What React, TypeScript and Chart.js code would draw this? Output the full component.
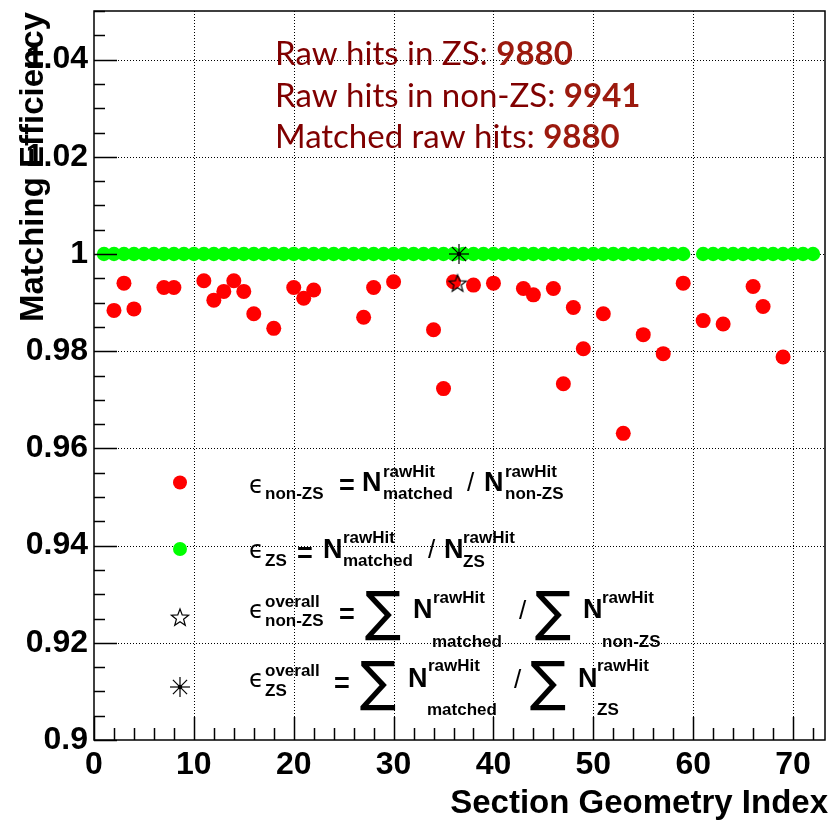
import React, { useEffect, useRef } from 'react';
import { Chart, registerables } from 'chart.js';

Chart.register(...registerables);

// ---- data ----
const sectionIndex = [2, 3, 4, 7, 8, 11, 12, 13, 14, 15, 16, 18, 20, 21, 22, 27, 28, 30, 34, 35, 36, 38, 40, 43, 44, 46, 47, 48, 49, 51, 53, 55, 57, 59, 61, 63, 66, 67, 69];
const effNonZS = [0.9884, 0.9940, 0.9887, 0.9931, 0.9931, 0.9945, 0.9905, 0.9923, 0.9945, 0.9923, 0.9877, 0.9847, 0.9931, 0.9909, 0.9926, 0.9870, 0.9931, 0.9943, 0.9844, 0.9723, 0.9943, 0.9936, 0.9940, 0.9929, 0.9916, 0.9929, 0.9733, 0.9890, 0.9805, 0.9877, 0.9631, 0.9834, 0.9795, 0.9940, 0.9863, 0.9856, 0.9933, 0.9892, 0.9788];

const zsIndex = [1, 2, 3, 4, 5, 6, 7, 8, 9, 10, 11, 12, 13, 14, 15, 16, 17, 18, 19, 20, 21, 22, 23, 24, 25, 26, 27, 28, 29, 30, 31, 32, 33, 34, 35, 36, 37, 38, 39, 40, 41, 42, 43, 44, 45, 46, 47, 48, 49, 50, 51, 52, 53, 54, 55, 56, 57, 58, 59, 61, 62, 63, 64, 65, 66, 67, 68, 69, 70, 71, 72];
const effZS = [1, 1, 1, 1, 1, 1, 1, 1, 1, 1, 1, 1, 1, 1, 1, 1, 1, 1, 1, 1, 1, 1, 1, 1, 1, 1, 1, 1, 1, 1, 1, 1, 1, 1, 1, 1, 1, 1, 1, 1, 1, 1, 1, 1, 1, 1, 1, 1, 1, 1, 1, 1, 1, 1, 1, 1, 1, 1, 1, 1, 1, 1, 1, 1, 1, 1, 1, 1, 1, 1, 1];

const overallNonZSX = [36.4];
const overallNonZSEff = [0.99386];
const overallZSX = [36.55];
const overallZSEff = [1.0];

const rawHitsZS = 9880;
const rawHitsNonZS = 9941;
const matchedRawHits = 9880;

const xMin = 0;
const xMax = 73.2;
const yMin = 0.9;
const yMax = 1.05;

// ---- styling helpers ----
const SANS = "'Liberation Sans', Arial, Helvetica, sans-serif";
const bold = (s: number) => `bold ${s}px ${SANS}`;

function makeStar(r: number): HTMLCanvasElement {
  const c = document.createElement('canvas');
  const s = Math.ceil(r * 2 + 4);
  c.width = s; c.height = s;
  const g = c.getContext('2d')!;
  const cx = s / 2, cy = s / 2;
  g.beginPath();
  for (let i = 0; i < 10; i++) {
    const rr = i % 2 === 0 ? r : r * 0.42;
    const a = -Math.PI / 2 + (i * Math.PI) / 5;
    const px = cx + rr * Math.cos(a), py = cy + rr * Math.sin(a);
    if (i === 0) g.moveTo(px, py); else g.lineTo(px, py);
  }
  g.closePath();
  g.strokeStyle = '#000';
  g.lineWidth = 1.2;
  g.stroke();
  return c;
}

function makeAsterisk(r: number): HTMLCanvasElement {
  const c = document.createElement('canvas');
  const s = Math.ceil(r * 2 + 4);
  c.width = s; c.height = s;
  const g = c.getContext('2d')!;
  const cx = s / 2, cy = s / 2;
  g.strokeStyle = '#000';
  g.lineWidth = 1.2;
  for (let i = 0; i < 4; i++) {
    const a = (i * Math.PI) / 4;
    g.beginPath();
    g.moveTo(cx - r * Math.cos(a), cy - r * Math.sin(a));
    g.lineTo(cx + r * Math.cos(a), cy + r * Math.sin(a));
    g.stroke();
  }
  g.beginPath();
  g.arc(cx, cy, 2.2, 0, Math.PI * 2);
  g.fillStyle = '#000';
  g.fill();
  return c;
}

type Run = { t: string; x: number; y: number; f: string };

function legendRuns(): Run[] {
  const eps = `24px 'DejaVu Sans', sans-serif`;
  const big = bold(27);
  const sm = bold(17);
  const sig = `54px 'DejaVu Sans', sans-serif`;
  const slash = `26px ${SANS}`;
  return [
    // row 1
    { t: 'ϵ', x: 249, y: 493, f: eps },
    { t: 'non-ZS', x: 265, y: 499, f: sm },
    { t: '=', x: 339, y: 494, f: big },
    { t: 'N', x: 362, y: 491, f: big },
    { t: 'rawHit', x: 383, y: 477, f: sm },
    { t: 'matched', x: 383, y: 499, f: sm },
    { t: '/', x: 467, y: 491, f: slash },
    { t: 'N', x: 484, y: 491, f: big },
    { t: 'rawHit', x: 505, y: 477, f: sm },
    { t: 'non-ZS', x: 505, y: 499, f: sm },
    // row 2
    { t: 'ϵ', x: 249, y: 558, f: eps },
    { t: 'ZS', x: 265, y: 566, f: sm },
    { t: '=', x: 297, y: 562, f: big },
    { t: 'N', x: 323, y: 558, f: big },
    { t: 'rawHit', x: 343, y: 543, f: sm },
    { t: 'matched', x: 343, y: 566, f: sm },
    { t: '/', x: 428, y: 558, f: slash },
    { t: 'N', x: 444, y: 558, f: big },
    { t: 'rawHit', x: 463, y: 543, f: sm },
    { t: 'ZS', x: 463, y: 567, f: sm },
    // row 3
    { t: 'ϵ', x: 249, y: 618, f: eps },
    { t: 'overall', x: 265, y: 607, f: sm },
    { t: 'non-ZS', x: 265, y: 626, f: sm },
    { t: '=', x: 339, y: 623, f: big },
    { t: '∑', x: 365, y: 630, f: sig },
    { t: 'N', x: 413, y: 618, f: big },
    { t: 'rawHit', x: 433, y: 603, f: sm },
    { t: 'matched', x: 432, y: 647, f: sm },
    { t: '/', x: 519, y: 619, f: slash },
    { t: '∑', x: 535, y: 630, f: sig },
    { t: 'N', x: 583, y: 618, f: big },
    { t: 'rawHit', x: 602, y: 603, f: sm },
    { t: 'non-ZS', x: 602, y: 647, f: sm },
    // row 4
    { t: 'ϵ', x: 249, y: 687, f: eps },
    { t: 'overall', x: 265, y: 676, f: sm },
    { t: 'ZS', x: 265, y: 696, f: sm },
    { t: '=', x: 334, y: 692, f: big },
    { t: '∑', x: 360, y: 700, f: sig },
    { t: 'N', x: 408, y: 687, f: big },
    { t: 'rawHit', x: 428, y: 671, f: sm },
    { t: 'matched', x: 427, y: 715, f: sm },
    { t: '/', x: 514, y: 688, f: slash },
    { t: '∑', x: 530, y: 700, f: sig },
    { t: 'N', x: 578, y: 687, f: big },
    { t: 'rawHit', x: 597, y: 671, f: sm },
    { t: 'ZS', x: 597, y: 715, f: sm },
  ];
}

export default function App() {
  const ref = useRef<HTMLCanvasElement | null>(null);

  useEffect(() => {
    if (!ref.current) return;
    const starImg = makeStar(9);
    const starLegendImg = makeStar(9);
    const astImg = makeAsterisk(10);
    const astLegendImg = makeAsterisk(10);

    const overlay = {
      id: 'overlay',
      beforeDatasetsDraw(chart: any) {
        const { ctx, chartArea: a, scales } = chart;
        const x = scales.x, y = scales.y;
        ctx.save();
        ctx.strokeStyle = '#000';
        ctx.lineWidth = 1;
        ctx.setLineDash([1, 2]);
        for (const t of x.ticks) {
          if (t.value <= xMin) continue;
          const px = Math.round(x.getPixelForValue(t.value)) + 0.5;
          ctx.beginPath(); ctx.moveTo(px, a.top); ctx.lineTo(px, a.bottom); ctx.stroke();
        }
        for (const t of y.ticks) {
          if (t.value <= yMin + 1e-9) continue;
          const py = Math.round(y.getPixelForValue(t.value)) + 0.5;
          ctx.beginPath(); ctx.moveTo(a.left, py); ctx.lineTo(a.right, py); ctx.stroke();
        }
        ctx.restore();
      },
      afterDatasetsDraw(chart: any) {
        const { ctx, chartArea: a, scales } = chart;
        const x = scales.x, y = scales.y;
        ctx.save();
        ctx.strokeStyle = '#000';
        ctx.lineWidth = 1.5;
        ctx.setLineDash([]);
        ctx.strokeRect(a.left, a.top, a.right - a.left, a.bottom - a.top);
        // x ticks: major every 10, minor every 2
        for (let v = xMin; v <= xMax + 1e-9; v += 2) {
          const px = Math.round(x.getPixelForValue(v)) + 0.5;
          const major = Math.abs(v % 10) < 1e-9;
          const len = major ? 23 : 12;
          ctx.beginPath(); ctx.moveTo(px, a.bottom); ctx.lineTo(px, a.bottom - len); ctx.stroke();
        }
        // y ticks: major every 0.02, minor every 0.005
        for (let k = 0; ; k++) {
          const v = yMin + k * 0.005;
          if (v > yMax + 1e-9) break;
          const py = Math.round(y.getPixelForValue(v)) + 0.5;
          const major = k % 4 === 0;
          const len = major ? 23 : 11;
          ctx.beginPath(); ctx.moveTo(a.left, py); ctx.lineTo(a.left + len, py); ctx.stroke();
        }
        ctx.restore();
      },
      afterDraw(chart: any) {
        const { ctx } = chart;
        ctx.save();
        ctx.fillStyle = '#000';
        ctx.textBaseline = 'alphabetic';
        // axis titles
        ctx.font = bold(33);
        ctx.textAlign = 'right';
        ctx.fillText('Section Geometry Index', 828, 813);
        ctx.save();
        ctx.translate(43, 322);
        ctx.rotate(-Math.PI / 2);
        ctx.textAlign = 'left';
        ctx.fillText('Matching Efficiency', 0, 0);
        ctx.restore();

        // counts annotation
        const lines: [string, number][] = [
          ['Raw hits in ZS: ', rawHitsZS],
          ['Raw hits in non-ZS: ', rawHitsNonZS],
          ['Matched raw hits: ', matchedRawHits],
        ];
        const baselines = [65, 107, 148];
        ctx.textAlign = 'left';
        lines.forEach(([label, num], i) => {
          ctx.font = `33px Lato, 'Open Sans', sans-serif`;
          ctx.fillStyle = '#800000';
          ctx.fillText(label, 275, baselines[i]);
          const w = ctx.measureText(label).width;
          ctx.font = `bold 33px Lato, 'Open Sans', sans-serif`;
          ctx.fillStyle = '#9c1a0e';
          ctx.fillText(String(num), 275 + w, baselines[i]);
        });

        // legend markers
        ctx.fillStyle = '#ff0000';
        ctx.beginPath(); ctx.arc(180, 482.5, 7, 0, Math.PI * 2); ctx.fill();
        ctx.fillStyle = '#00ff00';
        ctx.beginPath(); ctx.arc(180, 549, 7, 0, Math.PI * 2); ctx.fill();
        ctx.drawImage(starLegendImg, 180 - starLegendImg.width / 2, 618 - starLegendImg.height / 2);
        ctx.drawImage(astLegendImg, 180 - astLegendImg.width / 2, 687 - astLegendImg.height / 2);

        // legend text
        ctx.fillStyle = '#000';
        for (const r of legendRuns()) {
          ctx.font = r.f;
          ctx.fillText(r.t, r.x, r.y);
        }
        ctx.restore();
      },
    };

    const chart = new Chart(ref.current, {
      type: 'scatter',
      data: {
        datasets: [
          {
            label: 'overall ZS',
            data: overallZSX.map((v, i) => ({ x: v, y: overallZSEff[i] })),
            pointStyle: astImg as any,
            pointRadius: 10,
          },
          {
            label: 'overall non-ZS',
            data: overallNonZSX.map((v, i) => ({ x: v, y: overallNonZSEff[i] })),
            pointStyle: starImg as any,
            pointRadius: 9,
          },
          {
            label: 'ZS',
            data: zsIndex.map((v, i) => ({ x: v, y: effZS[i] })),
            pointRadius: 7.2,
            backgroundColor: '#00ff00',
            borderWidth: 0,
          },
          {
            label: 'non-ZS',
            data: sectionIndex.map((v, i) => ({ x: v, y: effNonZS[i] })),
            pointRadius: 7.5,
            backgroundColor: '#ff0000',
            borderWidth: 0,
          },
        ],
      },
      options: {
        animation: false,
        responsive: true,
        maintainAspectRatio: false,
        layout: { padding: { top: 10, right: 6, left: 0, bottom: 0 } },
        plugins: { legend: { display: false }, tooltip: { enabled: false } },
        scales: {
          x: {
            type: 'linear',
            min: xMin,
            max: xMax,
            grid: { display: false, drawTicks: false },
            border: { display: false },
            ticks: {
              stepSize: 10,
              includeBounds: false,
              color: '#000',
              padding: 6,
              font: { family: SANS, weight: 'bold', size: 32 },
              maxRotation: 0,
              autoSkip: false,
            },
            afterFit: (s: any) => { s.height = 82; s.paddingLeft = 0; s.paddingRight = 0; },
          },
          y: {
            type: 'linear',
            min: yMin,
            max: yMax,
            grid: { display: false, drawTicks: false },
            border: { display: false },
            ticks: {
              stepSize: 0.02,
              includeBounds: false,
              color: '#000',
              padding: 6,
              font: { family: SANS, weight: 'bold', size: 32 },
              autoSkip: false,
              callback: (v: any) => String(Number(Number(v).toFixed(2))),
            },
            afterFit: (s: any) => { s.width = 94; s.paddingTop = 0; s.paddingBottom = 0; },
          },
        },
      },
      plugins: [overlay],
    } as any);

    return () => chart.destroy();
  }, []);

  return (
    <div style={{ position: 'fixed', left: 0, top: 0, width: 836, height: 822, background: '#fff' }}>
      <canvas ref={ref} />
    </div>
  );
}
